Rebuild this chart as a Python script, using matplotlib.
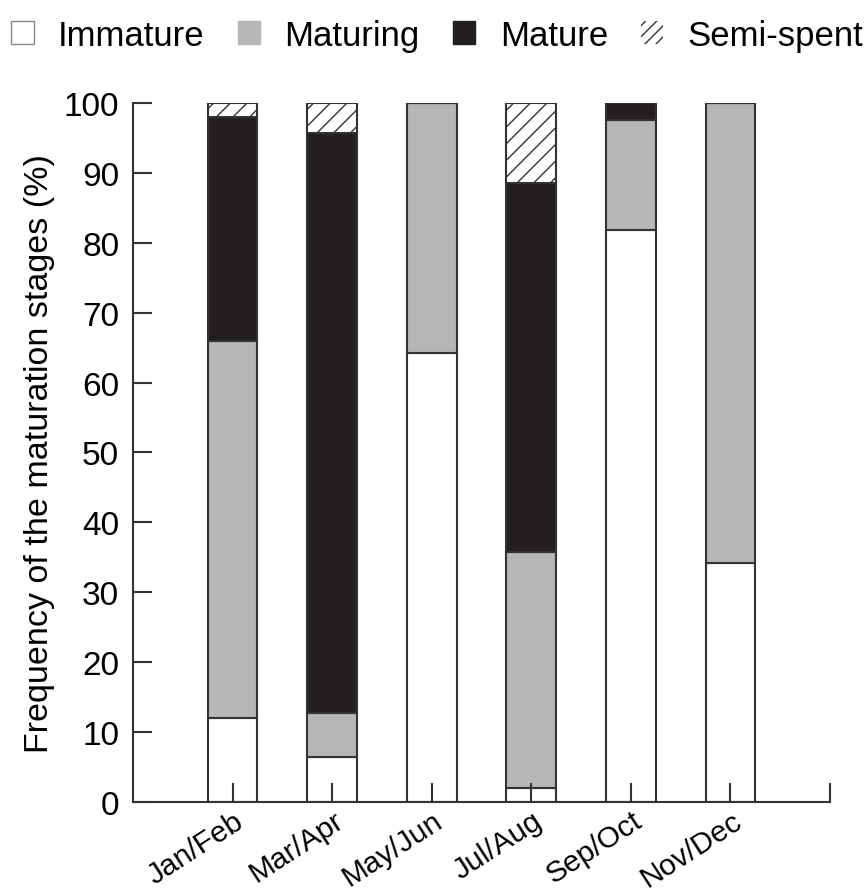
from matplotlib import pyplot as plt
from matplotlib.patches import Patch
from matplotlib.transforms import ScaledTranslation
import numpy as np

#*********************************************************************************************#
# data (% of fish in each stage)
months = ['Jan/Feb', 'Mar/Apr', 'May/Jun', 'Jul/Aug', 'Sep/Oct', 'Nov/Dec']
immature = np.array([12.0, 6.5, 64.2, 2.0, 81.8, 34.2])
maturing = np.array([54.0, 6.2, 35.8, 33.8, 15.8, 65.8])
mature = np.array([32.0, 83.0, 0.0, 52.8, 2.4, 0.0])
semi_spent = np.array([2.0, 4.3, 0.0, 11.4, 0.0, 0.0])
yticks = np.arange(0, 101, 10)

#*********************************************************************************************#
plt.rcParams['font.family'] = ['Liberation Sans', 'DejaVu Sans']
plt.rcParams['hatch.linewidth'] = 1.0
plt.rcParams['hatch.color'] = '#333333'

edge = '#333333'
grey = '#b6b6b8'
black = '#231f20'

fig = plt.figure(figsize=(8.66, 8.95), dpi=100)
ax = fig.add_axes([0.1536, 0.1028, 0.8048, 0.781])

x = np.arange(len(months))
w = 0.5
ax.bar(x, immature, w, color='white', edgecolor=edge, linewidth=1.5)
ax.bar(x, maturing, w, bottom=immature, color=grey, edgecolor=edge, linewidth=1.5)
ax.bar(x, mature, w, bottom=immature + maturing, color=black, edgecolor=edge, linewidth=1.5)
ax.bar(x, semi_spent, w, bottom=immature + maturing + mature, color='white',
       edgecolor=edge, hatch='//', linewidth=1.5)

ax.set_xlim(-1, 6)
ax.set_ylim(0, 100)
ax.set_yticks(yticks)
ax.set_xticks(list(x) + [6])
ax.set_xticklabels(months + [''], rotation=33, ha='right', va='top')
ax.tick_params(direction='in', length=14, width=1.5, color=edge, labelsize=24, pad=10)
ax.tick_params(axis='x', pad=3)
off = ScaledTranslation(0.16, 0.0, fig.dpi_scale_trans)
for lab in ax.get_xticklabels():
    lab.set_fontsize(21.5)
    lab.set_transform(lab.get_transform() + off)

for s in ['top', 'right']:
    ax.spines[s].set_visible(False)
for s in ['left', 'bottom']:
    ax.spines[s].set_color(edge)
    ax.spines[s].set_linewidth(1.5)

ax.set_ylabel('Frequency of the maturation stages (%)', fontsize=24.5, labelpad=6)

handles = [Patch(facecolor='white', edgecolor='#888888', linewidth=1),
           Patch(facecolor=grey, edgecolor=grey),
           Patch(facecolor=black, edgecolor=black),
           Patch(facecolor='white', edgecolor='#333333', hatch='///', linewidth=0)]
fig.legend(handles, ['Immature', 'Maturing', 'Mature', 'Semi-spent'],
           loc='upper center', bbox_to_anchor=(0.505, 0.997), ncol=4, frameon=False,
           fontsize=25, handlelength=0.65, handleheight=0.65, handletextpad=0.7,
           columnspacing=0.95, borderaxespad=0.1)

fig.savefig('out.png', dpi=100)
